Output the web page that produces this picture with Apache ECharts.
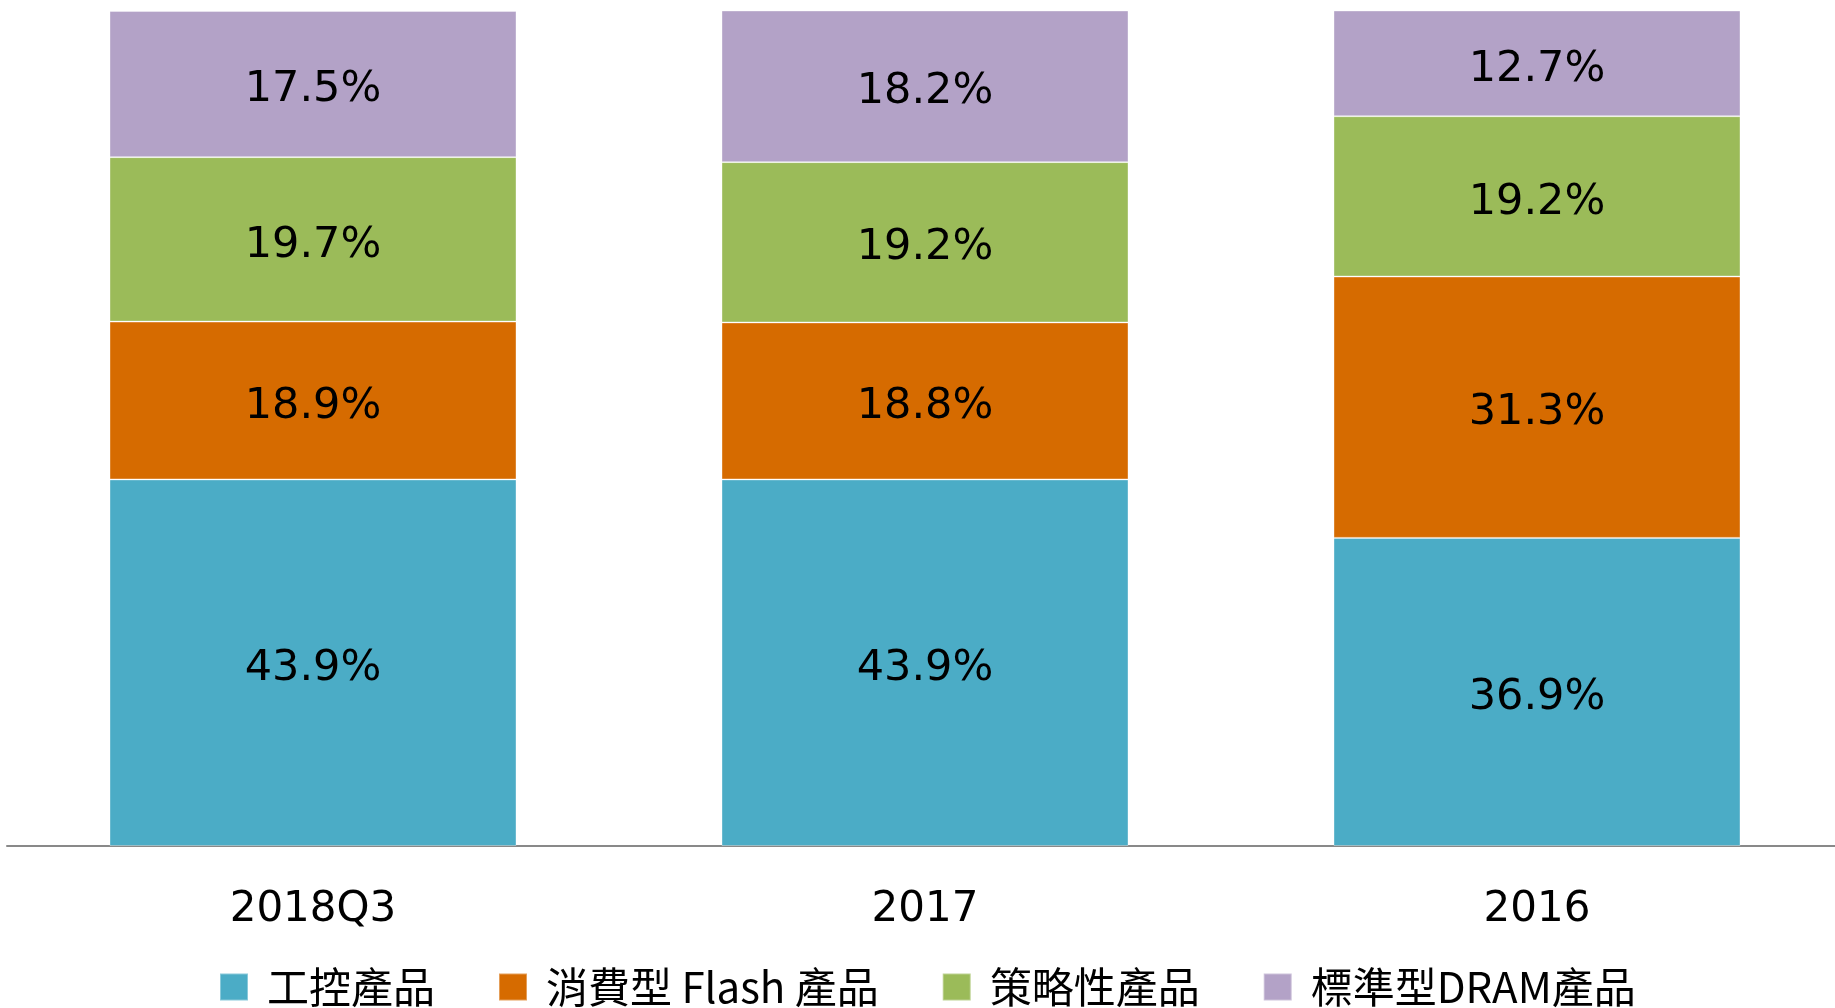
<!DOCTYPE html>
<html>
<head>
<meta charset="utf-8">
<script src="https://cdn.jsdelivr.net/npm/echarts@6/dist/echarts.min.js"></script>
<style>
  html, body { margin: 0; padding: 0; background: #fff; overflow: hidden; }
  /* slightly wider than the window: the axis runs off the right edge in the original */
  #chart { width: 1850px; height: 1008px; }
</style>
</head>
<body>
<div id="chart"></div>
<script>
const categories = ["2018Q3", "2017", "2016"];
const seriesNames = ["工控產品", "消費型 Flash 產品", "策略性產品", "標準型DRAM產品"];
const industrial = [43.9, 43.9, 36.9];
const consumerFlash = [18.9, 18.8, 31.3];
const strategic = [19.7, 19.2, 19.2];
const standardDram = [17.5, 18.2, 12.7];
const colors = ["#4BACC6", "#D66B00", "#9BBB59", "#B3A2C7"];

const chart = echarts.init(document.getElementById("chart"), null, { renderer: "canvas" });

const makeSeries = (name, data, color) => ({
  name,
  type: "bar",
  stack: "total",
  data,
  barWidth: "66.5%",
  itemStyle: { color, borderColor: "rgba(255,255,255,0.35)", borderWidth: 1 },
  label: {
    show: true,
    position: "inside",
    offset: [0, 6],
    formatter: (p) => `${p.value.toFixed(1)}%`,
    color: "#000",
    fontFamily: "DejaVu Sans",
    fontSize: 43,
  },
});

chart.setOption({
  backgroundColor: "#fff",
  animation: false,
  grid: { top: 11, left: 7, width: 1836, height: 835 },
  xAxis: {
    type: "category",
    data: categories,
    axisLine: { lineStyle: { color: "#898989", width: 2 } },
    axisTick: { show: false },
    axisLabel: {
      color: "#000",
      fontFamily: "DejaVu Sans",
      fontSize: 42,
      margin: 43,
    },
  },
  yAxis: {
    type: "value",
    min: 0,
    max: 100,
    show: false,
  },
  legend: {
    data: seriesNames,
    left: 219,
    top: 966,
    padding: 0,
    itemWidth: 28,
    itemHeight: 27,
    itemGap: 63,
    icon: "rect",
    textStyle: {
      color: "#000",
      fontFamily: "Noto Sans CJK TC",
      fontSize: 42,
      padding: [0, 0, 0, 14],
    },
  },
  series: [
    makeSeries(seriesNames[0], industrial, colors[0]),
    makeSeries(seriesNames[1], consumerFlash, colors[1]),
    makeSeries(seriesNames[2], strategic, colors[2]),
    makeSeries(seriesNames[3], standardDram, colors[3]),
  ],
});
</script>
</body>
</html>
